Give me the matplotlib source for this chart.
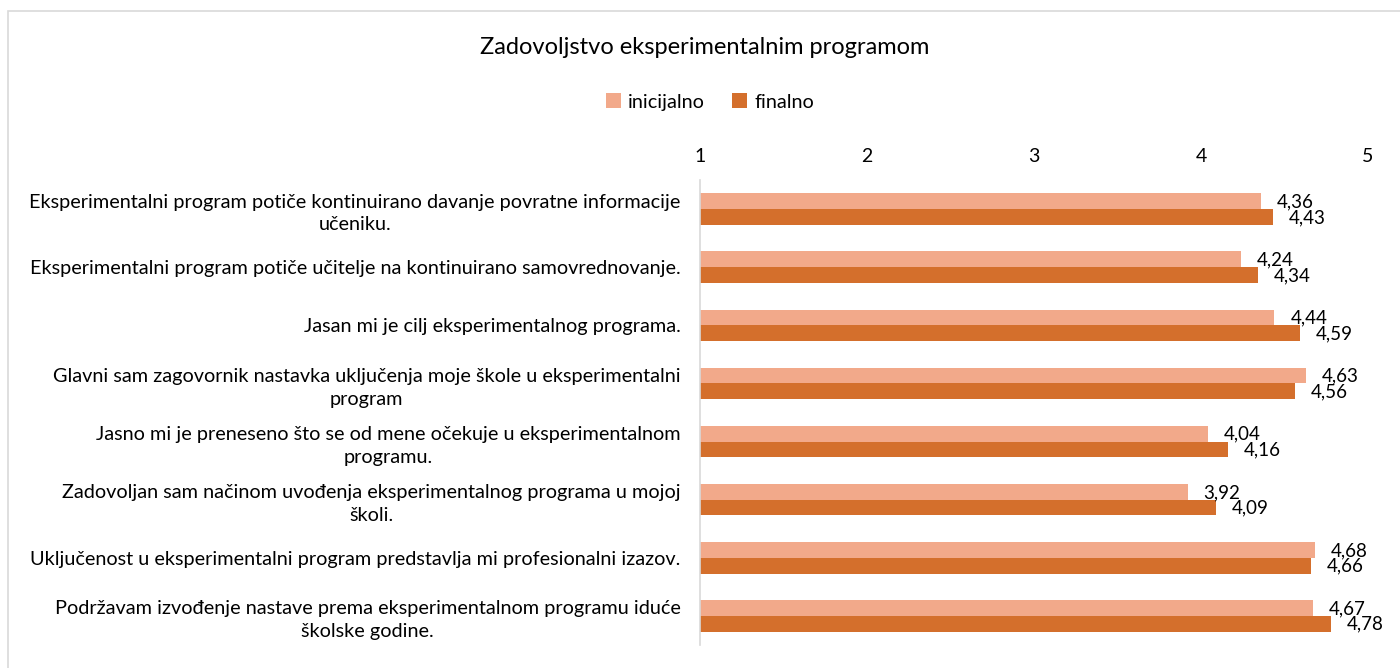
import matplotlib
matplotlib.use("Agg")
import matplotlib.pyplot as plt
from matplotlib.patches import Rectangle
import numpy as np

plt.rcParams['font.family'] = ['Lato', 'DejaVu Sans']

categories = [
    "Eksperimentalni program potiče kontinuirano davanje povratne informacije\nučeniku.",
    "Eksperimentalni program potiče učitelje na kontinuirano samovrednovanje.",
    "Jasan mi je cilj eksperimentalnog programa.",
    "Glavni sam zagovornik nastavka uključenja moje škole u eksperimentalni\nprogram",
    "Jasno mi je preneseno što se od mene očekuje u eksperimentalnom\nprogramu.",
    "Zadovoljan sam načinom uvođenja eksperimentalnog programa u mojoj\nškoli.",
    "Uključenost u eksperimentalni program predstavlja mi profesionalni izazov.",
    "Podržavam izvođenje nastave prema eksperimentalnom programu iduće\nškolske godine.",
]
inicijalno = [4.36, 4.24, 4.44, 4.63, 4.04, 3.92, 4.68, 4.67]
finalno = [4.43, 4.34, 4.59, 4.56, 4.16, 4.09, 4.66, 4.78]
series_names = ["inicijalno", "finalno"]
xticks = [1, 2, 3, 4, 5]

c_light = "#F2A98A"
c_dark = "#D46F2C"

W, H = 1400, 668
fig = plt.figure(figsize=(W / 100, H / 100), dpi=100)

# outer chart border
fig.patches.append(Rectangle((8 / W, -0.1), 1.2, 1 - 11 / H + 0.1,
                             transform=fig.transFigure, fill=False,
                             edgecolor="#D9D9D9", linewidth=1.2))

ax = fig.add_axes([700 / W, 1 - 645 / H, (1368 - 700) / W, (645 - 180) / H])

y = np.arange(len(categories))
bh = 0.27
ax.barh(y - bh / 2, np.array(inicijalno) - 1, left=1, height=bh, color=c_light, label=series_names[0])
ax.barh(y + bh / 2, np.array(finalno) - 1, left=1, height=bh, color=c_dark, label=series_names[1])

for yi, v in zip(y, inicijalno):
    ax.text(v + 0.095, yi - bh / 2 + 0.01, f"{v:.2f}".replace(".", ","), va="center", ha="left",
            fontsize=13.5, color="#000000")
for yi, v in zip(y, finalno):
    ax.text(v + 0.095, yi + bh / 2 + 0.01, f"{v:.2f}".replace(".", ","), va="center", ha="left",
            fontsize=13.5, color="#000000")

ax.set_xlim(1, 5)
ax.set_ylim(len(categories) - 0.5, -0.5)
ax.set_xticks(xticks)
ax.set_xticklabels([str(t) for t in xticks], fontsize=14)
ax.xaxis.tick_top()
ax.tick_params(axis="x", length=0, pad=11)
ax.set_yticks(y)
ax.set_yticklabels(categories, fontsize=14.3, multialignment="center", linespacing=1.4)
ax.tick_params(axis="y", length=0, pad=14)
for s in ["top", "right", "bottom"]:
    ax.spines[s].set_visible(False)
ax.spines["left"].set_color("#D9D9D9")
ax.spines["left"].set_linewidth(1.2)

fig.text(705 / W, 1 - 47 / H, "Zadovoljstvo eksperimentalnim programom", ha="center", va="center",
         fontsize=17, color="#000000")
fig.legend(loc="center", bbox_to_anchor=(710 / W, 1 - 102 / H), ncol=2, frameon=False,
           fontsize=14.3, handlelength=0.75, handleheight=0.75, handletextpad=0.35, columnspacing=1.4)

fig.savefig("out.png", dpi=100)
